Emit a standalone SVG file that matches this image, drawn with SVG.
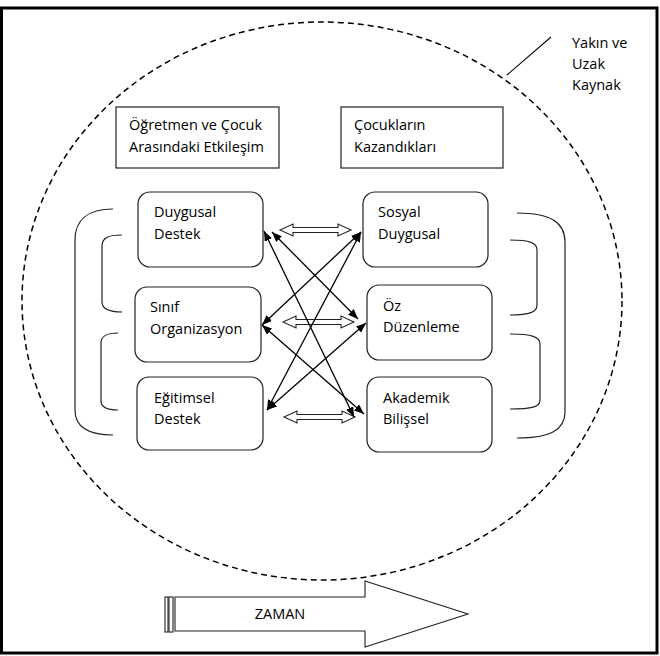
<svg xmlns="http://www.w3.org/2000/svg" width="660" height="656" viewBox="0 0 660 656">
<style>
text{font-family:"Open Sans","Noto Sans","Liberation Sans",sans-serif;font-size:14.5px;fill:#000}
.box{fill:#fff;stroke:#222;stroke-width:1.2}
.br{fill:none;stroke:#222;stroke-width:1.2}
.ln{fill:none;stroke:#000;stroke-width:1.3}
.hol{fill:#fff;stroke:#222;stroke-width:1.1}
</style>
<defs>
<marker id="ah" markerUnits="userSpaceOnUse" markerWidth="11" markerHeight="8" refX="10" refY="4" orient="auto-start-reverse"><path d="M0,0 L10,4 L0,8 z" fill="#000"/></marker>
</defs>
<rect x="0" y="0" width="660" height="656" fill="#fff"/>
<rect id="frame" x="1.5" y="8" width="655.5" height="645" fill="none" stroke="#000" stroke-width="3"/>
<g id="source">
<ellipse cx="322" cy="301" rx="300" ry="279" fill="none" stroke="#000" stroke-width="1.5" stroke-dasharray="6,4"/>
<line x1="507" y1="75" x2="551" y2="37" stroke="#000" stroke-width="1.1"/>
<text x="572" y="48">Yakın ve</text>
<text x="572" y="69">Uzak</text>
<text x="572" y="90">Kaynak</text>
</g>
<g id="head-left"><rect class="box" x="116" y="107" width="163" height="61"/><text x="129" y="130">Öğretmen ve Çocuk</text><text x="129" y="152">Arasındaki Etkileşim</text></g>
<g id="head-right"><rect class="box" x="341" y="107" width="162" height="61"/><text x="354" y="130">Çocukların</text><text x="354" y="152">Kazandıkları</text></g>
<g id="duygusal-destek"><rect class="box" x="138" y="192" width="125" height="75" rx="12"/><text x="154" y="217">Duygusal</text><text x="154" y="239">Destek</text></g>
<g id="sinif-organizasyon"><rect class="box" x="135" y="287" width="126" height="75" rx="12"/><text x="150" y="312">Sınıf</text><text x="150" y="334">Organizasyon</text></g>
<g id="egitimsel-destek"><rect class="box" x="137" y="377" width="126" height="73" rx="12"/><text x="154" y="403">Eğitimsel</text><text x="154" y="424">Destek</text></g>
<g id="sosyal-duygusal"><rect class="box" x="363" y="192" width="125" height="75" rx="12"/><text x="378" y="217">Sosyal</text><text x="378" y="239">Duygusal</text></g>
<g id="oz-duzenleme"><rect class="box" x="367" y="285" width="125" height="75" rx="12"/><text x="383" y="311">Öz</text><text x="383" y="332">Düzenleme</text></g>
<g id="akademik-bilissel"><rect class="box" x="367" y="377" width="125" height="75" rx="12"/><text x="383" y="403">Akademik</text><text x="383" y="424">Bilişsel</text></g>
<g id="brackets">
<path class="br" d="M113,209 C88,209 75,220 75,240 L75,410 C75,427 88,435 113,435"/>
<path class="br" d="M122,235 C108,235 102,238 102,246 L102,302 C102,309 108,312 122,312"/>
<path class="br" d="M118,333 C106,333 101,336 101,343 L101,401 C101,407 106,410 118,410"/>
<path class="br" d="M517,213 C550,213 565,222 565,242 L565,412 C565,430 550,438 517,438"/>
<path class="br" d="M510,240 C530,240 537,243 537,250 L537,305 C537,312 530,315 510,315"/>
<path class="br" d="M510,334 C532,334 540,337 540,344 L540,400 C540,407 532,409 510,409"/>
</g>
<g id="connectors">
<path class="hol" d="M280,230 L293,224 L293,227.5 L338,227.5 L338,224 L351,230 L338,236 L338,232.5 L293,232.5 L293,236 Z"/>
<path class="hol" d="M283,322 L296,316 L296,319.5 L341,319.5 L341,316 L354,322 L341,328 L341,324.5 L296,324.5 L296,328 Z"/>
<path class="hol" d="M284,417 L297,411 L297,414.5 L342,414.5 L342,411 L355,417 L342,423 L342,419.5 L297,419.5 L297,423 Z"/>
<line class="ln" x1="272" y1="232" x2="358" y2="319" marker-start="url(#ah)" marker-end="url(#ah)"/>
<line class="ln" x1="264" y1="231" x2="354" y2="417" marker-start="url(#ah)" marker-end="url(#ah)"/>
<line class="ln" x1="361" y1="232" x2="262" y2="325" marker-start="url(#ah)" marker-end="url(#ah)"/>
<line class="ln" x1="361" y1="232" x2="267" y2="410" marker-start="url(#ah)" marker-end="url(#ah)"/>
<line class="ln" x1="262" y1="325" x2="364" y2="414" marker-start="url(#ah)" marker-end="url(#ah)"/>
<line class="ln" x1="267" y1="410" x2="366" y2="323" marker-start="url(#ah)" marker-end="url(#ah)"/>
</g>
<g id="zaman">
<rect class="hol" x="165" y="597" width="3" height="35"/>
<rect class="hol" x="169" y="597" width="4" height="35"/>
<path class="hol" d="M175,597 L365,597 L365,581 L468,614 L365,647 L365,631 L175,631 Z"/>
<text x="280" y="619" text-anchor="middle">ZAMAN</text>
</g>
</svg>
